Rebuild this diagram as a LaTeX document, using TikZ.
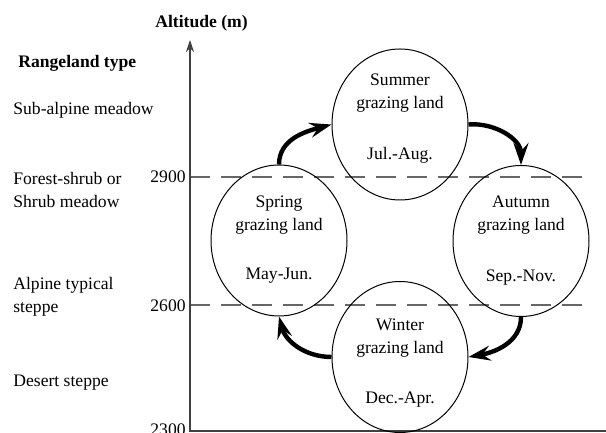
\documentclass[tikz,border=0pt]{standalone}
\usepackage{fontspec}
\setmainfont{Liberation Serif}
\usetikzlibrary{arrows.meta,shapes.geometric}
\tikzset{
  every node/.style={font=\fontsize{8.8}{11.5}\selectfont, inner sep=0pt},
  season/.style={draw, ellipse, line width=0.5pt, minimum width=68pt, minimum height=75.5pt},
  seasontext/.style={align=center},
  rangeland/.style={anchor=west, align=left},
  level/.style={anchor=east},
  bound/.style={draw=black!60, line width=0.75pt, dash pattern=on 10pt off 5.5pt},
  axisline/.style={draw=black!75, line width=0.75pt},
  flow/.style={line width=2.2pt, -{Stealth[length=11pt, width=7.5pt, inset=4pt]}}
}
\begin{document}
\begin{tikzpicture}[x=0.5pt, y=0.5pt]
            \useasboundingbox (0,0) rectangle (606,433);
            \coordinate (top) at (190,393);
            \coordinate (origin) at (190,2);
            \coordinate (right) at (606,2);
            \coordinate (b2900) at (190,256);
            \coordinate (e2900) at (590,256);
            \coordinate (b2600) at (190,128);
            \coordinate (e2600) at (590,128);
            \draw[bound] (b2900) -- (e2900);
            \draw[bound] (b2600) -- (e2600);
            \draw[axisline, {Stealth[length=6pt, width=4pt]}-] (top) -- (origin) -- (right);
            \node[font=\fontsize{8.8}{11.5}\bfseries] (alt) at (201.5,410) {Altitude (m)};
            \node[level] (l2900) at (186,256) {2900};
            \node[level] (l2600) at (186,127) {2600};
            \node[level] (l2300) at (186,3) {2300};
            \node[rangeland, font=\fontsize{8.8}{11.5}\bfseries] (type) at (18,370) {Rangeland type};
            \node[rangeland] (subalpine) at (13,323) {Sub-alpine meadow};
            \node[rangeland] (forest) at (13,243.5) {Forest-shrub or\\Shrub meadow};
            \node[rangeland] (typical) at (13,136) {Alpine typical\\steppe};
            \node[rangeland] (desert) at (13,50) {Desert steppe};
            \node[season] (summer) at (400,308.5) {};
            \node[season] (autumn) at (521,192) {};
            \node[season] (winter) at (400,76) {};
            \node[season] (spring) at (279,192.5) {};
            \node[seasontext] (summername) at (400,339.5) {Summer\\grazing land};
            \node[seasontext] (summerdate) at (400,278) {Jul.-Aug.};
            \node[seasontext] (autumnname) at (521,217.5) {Autumn\\grazing land};
            \node[seasontext] (autumndate) at (521,155) {Sep.-Nov.};
            \node[seasontext] (wintername) at (400,95) {Winter\\grazing land};
            \node[seasontext] (winterdate) at (400,33) {Dec.-Apr.};
            \node[seasontext] (springname) at (279,218) {Spring\\grazing land};
            \node[seasontext] (springdate) at (279,157) {May-Jun.};
            \draw[flow] (spring.north) to[out=90, in=195] (summer.west);
            \draw[flow] (summer.east) to[out=5, in=90] (autumn.north);
            \draw[flow] (autumn.south) to[out=-90, in=10] (winter.east);
            \draw[flow] (winter.west) to[out=180, in=-75] (spring.south);
        \end{tikzpicture}
\end{document}
